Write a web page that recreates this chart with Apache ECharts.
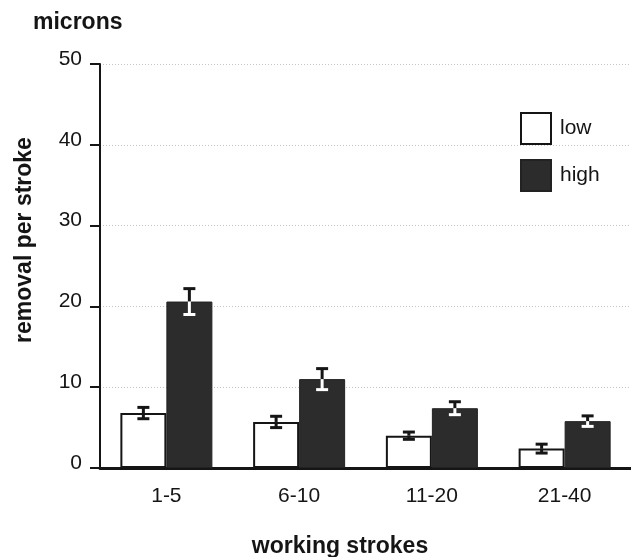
<!DOCTYPE html>
<html>
<head>
<meta charset="utf-8">
<script src="https://cdn.jsdelivr.net/npm/echarts@6/dist/echarts.min.js"></script>
<style>
  html, body { margin: 0; padding: 0; background: #fff; }
  #chart { width: 631px; height: 557px; }
</style>
</head>
<body>
<div id="chart"></div>
<script>
// Removal per stroke (microns) by working-stroke range, low vs high load
const categories = ['1-5', '6-10', '11-20', '21-40'];
const lowValues = [6.8, 5.7, 4.0, 2.4];
const lowErrors = [0.7, 0.7, 0.45, 0.55];
const highValues = [20.6, 11.0, 7.4, 5.8];
const highErrors = [1.6, 1.3, 0.8, 0.65];
const yTicks = [0, 10, 20, 30, 40, 50];

const FONT = '"Liberation Sans", Arial, Helvetica, sans-serif';
const BAR_W = 46;
const INK = '#151515';
const DARK = '#2c2c2c';

// Error bar: stem + caps. For dark bars the part inside the bar is drawn in white.
function errorBar(values, errors, side, insideColor) {
  return function (params, api) {
    const i = api.value(0);
    const v = values[i];
    const e = errors[i];
    const top = api.coord([i, v + e]);
    const mid = api.coord([i, v]);
    const bot = api.coord([i, v - e]);
    const x = top[0] + side * BAR_W / 2;
    const cap = 6;
    const children = [
      { type: 'line', shape: { x1: x, y1: top[1], x2: x, y2: mid[1] }, style: { stroke: INK, lineWidth: 3 } },
      { type: 'line', shape: { x1: x - cap, y1: top[1], x2: x + cap, y2: top[1] }, style: { stroke: INK, lineWidth: 3 } },
      { type: 'line', shape: { x1: x, y1: mid[1], x2: x, y2: bot[1] }, style: { stroke: insideColor, lineWidth: 3 } },
      { type: 'line', shape: { x1: x - cap, y1: bot[1], x2: x + cap, y2: bot[1] }, style: { stroke: insideColor, lineWidth: 3 } }
    ];
    return { type: 'group', children: children };
  };
}

const chart = echarts.init(document.getElementById('chart'), null, { renderer: 'canvas' });

chart.setOption({
  animation: false,
  backgroundColor: '#fff',
  textStyle: { fontFamily: FONT },
  grid: { left: 100, top: 64, width: 539, bottom: 89, containLabel: false },
  legend: {
    data: ['low', 'high'],
    orient: 'vertical',
    left: 515,
    top: 107,
    itemWidth: 30,
    itemHeight: 31,
    itemGap: 14,
    icon: 'rect',
    selectedMode: false,
    textStyle: { fontSize: 21, color: INK, fontFamily: FONT, padding: [0, 0, 0, 4] }
  },
  xAxis: {
    type: 'category',
    data: categories,
    axisLine: { lineStyle: { color: INK, width: 3 } },
    axisTick: { show: false },
    axisLabel: { fontSize: 21, color: INK, margin: 18, fontFamily: FONT },
    splitLine: { show: false }
  },
  yAxis: {
    type: 'value',
    min: yTicks[0],
    max: yTicks[yTicks.length - 1],
    interval: 10,
    axisLine: { show: true, lineStyle: { color: INK, width: 2 } },
    axisTick: { show: true, length: 10, lineStyle: { color: INK, width: 2 } },
    axisLabel: {
      fontSize: 21, color: INK, margin: 18, fontFamily: FONT,
      verticalAlign: 'bottom', lineHeight: 10
    },
    splitLine: { show: true, lineStyle: { color: '#c4c4c4', type: [1, 2], width: 1 } }
  },
  series: [
    {
      name: 'low',
      type: 'bar',
      data: lowValues,
      barWidth: BAR_W,
      barGap: '0%',
      itemStyle: { color: '#fff', borderColor: INK, borderWidth: 2 },
      z: 2
    },
    {
      name: 'high',
      type: 'bar',
      data: highValues,
      barWidth: BAR_W,
      barGap: '0%',
      itemStyle: { color: DARK, borderColor: '#222', borderWidth: 1 },
      z: 2
    },
    {
      name: 'low error',
      type: 'custom',
      data: categories.map((c, i) => [i]),
      renderItem: errorBar(lowValues, lowErrors, -1, INK),
      z: 5
    },
    {
      name: 'high error',
      type: 'custom',
      data: categories.map((c, i) => [i]),
      renderItem: errorBar(highValues, highErrors, 1, '#fff'),
      z: 5
    }
  ],
  graphic: [
    {
      type: 'text', left: 33, top: 11,
      style: { text: 'microns', font: 'bold 23px ' + FONT, fill: INK }
    },
    {
      type: 'text', x: 25, y: 240, rotation: Math.PI / 2,
      style: { text: 'removal per stroke', font: 'bold 23px ' + FONT, fill: INK, align: 'center', verticalAlign: 'middle' }
    },
    {
      type: 'text', x: 340, y: 547,
      style: { text: 'working strokes', font: 'bold 23px ' + FONT, fill: INK, align: 'center', verticalAlign: 'middle' }
    }
  ]
});
</script>
</body>
</html>
